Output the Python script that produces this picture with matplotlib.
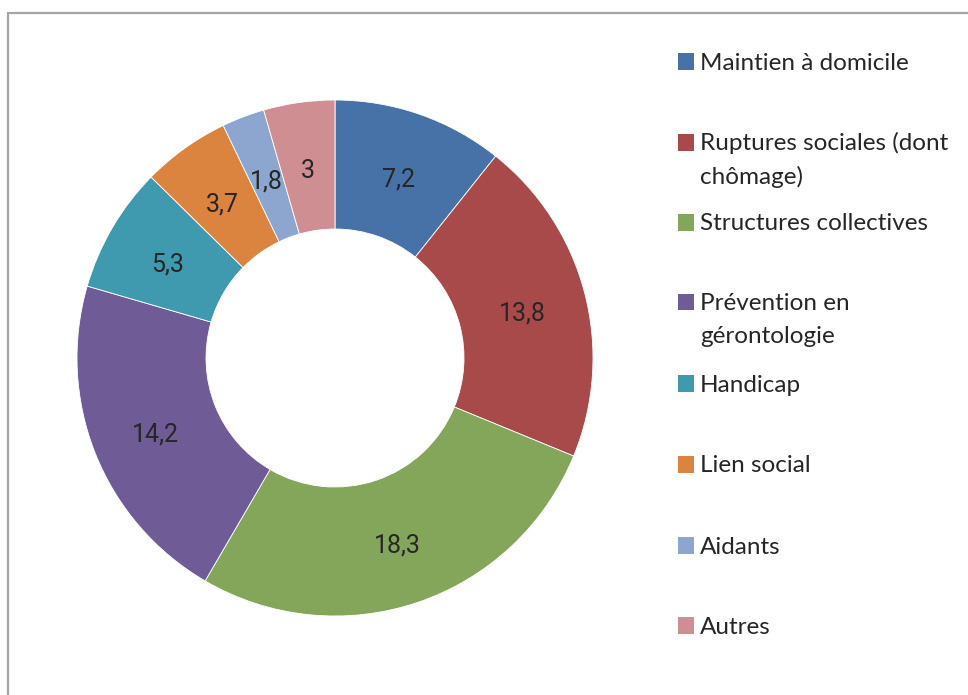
import matplotlib.pyplot as plt
from matplotlib.patches import Rectangle
import numpy as np

labels = ["Maintien à domicile", "Ruptures sociales (dont\nchômage)", "Structures collectives",
          "Prévention en\ngérontologie", "Handicap", "Lien social", "Aidants", "Autres"]
values = [7.2, 13.8, 18.3, 14.2, 5.3, 3.7, 1.8, 3]
value_text = ["7,2", "13,8", "18,3", "14,2", "5,3", "3,7", "1,8", "3"]
colors = ["#4672A8", "#A94A4A", "#84A65B", "#6F5B95", "#3F9AB0", "#DB843F", "#8DA6CF", "#CF8E91"]

W, H = 968, 695
fig = plt.figure(figsize=(W / 100, H / 100), dpi=100)

# pie axes placed in pixels: center (335, 358), radius 258
cx, cy, r = 335, 358, 258
ax = fig.add_axes([(cx - r) / W, (H - cy - r) / H, 2 * r / W, 2 * r / H])
wedges, _ = ax.pie(values, colors=colors, startangle=90, counterclock=False, radius=1,
                   wedgeprops=dict(width=0.5, edgecolor="white", linewidth=0.6))
ax.set_xlim(-1, 1)
ax.set_ylim(-1, 1)
ax.set_aspect("equal")
ax.axis("off")

for w, t in zip(wedges, value_text):
    ang = np.deg2rad((w.theta1 + w.theta2) / 2)
    ax.annotate(t, (0.75 * np.cos(ang), 0.75 * np.sin(ang)), xytext=(0, -3),
                textcoords="offset points", ha="center", va="center",
                fontsize=18, family="Roboto", color="#262626")

# frame (only left and top edges visible)
fig.patches.append(Rectangle((8 / W, -0.5), 2, (H - 13) / H + 0.5, transform=fig.transFigure,
                             fill=False, edgecolor="#A5A5A5", linewidth=1.6))

# legend, one text per line so the square lines up with the first line
ys = [61, 142, 222, 302, 383, 464, 545, 625]
for lab, col, y in zip(labels, colors, ys):
    fig.patches.append(Rectangle((678 / W, (H - y - 8.5) / H), 16 / W, 16.5 / H,
                                 transform=fig.transFigure, facecolor=col, edgecolor="none"))
    for k, line in enumerate(lab.split("\n")):
        fig.text(700 / W, (H - y - 8.5 - 33 * k) / H, line, ha="left", va="baseline",
                 fontsize=17.5, family="Lato", color="#262626")

fig.savefig("out.png", dpi=100)
